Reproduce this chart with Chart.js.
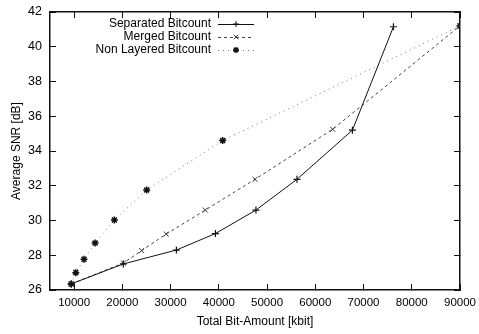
<!DOCTYPE html>
<html>
<head>
<meta charset="utf-8">
<script src="https://cdn.jsdelivr.net/npm/chart.js@4.4.0/dist/chart.umd.min.js"></script>
<style>
  body { margin: 0; background: #fff; }
</style>
</head>
<body>
<canvas id="chart_snr" width="479" height="334"></canvas>
<script>
// values
const sepX = [9400, 20200, 31200, 39300, 47700, 56200, 67700, 76200];
const sepY = [26.35, 27.5, 28.3, 29.25, 30.6, 32.37, 35.2, 41.15];

const mergedX = [9400, 20200, 24000, 29100, 37200, 47500, 63600, 90000];
const mergedY = [26.35, 27.55, 28.27, 29.22, 30.6, 32.37, 35.25, 41.2];

const nonLayX = [9400, 10350, 12050, 14350, 18350, 25050, 40800, 90000];
const nonLayY = [26.35, 27.0, 27.77, 28.7, 30.03, 31.76, 34.6, 41.2];

const xTicks = [10000, 20000, 30000, 40000, 50000, 60000, 70000, 80000, 90000];
const yTicks = [26, 28, 30, 32, 34, 36, 38, 40, 42];

const seriesNames = ["Separated Bitcount", "Merged Bitcount", "Non Layered Bitcount"];

const FONT = "'Liberation Sans', Arial, Helvetica, sans-serif";

function toPoints(xs, ys) {
    return xs.map((x, i) => ({x: x, y: ys[i]}));
}

function marker(ctx, style, x, y, r) {
    ctx.beginPath();
    if (style == "cross" || style == "star") {
        ctx.moveTo(x - r, y); ctx.lineTo(x + r, y);
        ctx.moveTo(x, y - r); ctx.lineTo(x, y + r);
    }
    if (style == "crossRot" || style == "star") {
        ctx.moveTo(x - r * 0.75, y - r * 0.75); ctx.lineTo(x + r * 0.75, y + r * 0.75);
        ctx.moveTo(x - r * 0.75, y + r * 0.75); ctx.lineTo(x + r * 0.75, y - r * 0.75);
    }
    ctx.stroke();
}

// legend: right aligned text, sample line to the right (like gnuplot key)
const keyPlugin = {
    id: "gnuKey",
    afterDatasetsDraw(chart) {
        const ctx = chart.ctx;
        ctx.save();
        ctx.font = "12px " + FONT;
        ctx.fillStyle = "#000";
        ctx.textAlign = "right";
        ctx.textBaseline = "middle";
        chart.data.datasets.forEach((ds, i) => {
            const y = 24 + i * 13;
            ctx.fillText(seriesNames[i], 211, y);
            ctx.strokeStyle = ds.borderColor;
            ctx.lineWidth = 1;
            ctx.setLineDash(ds.borderDash || []);
            ctx.beginPath();
            ctx.moveTo(218, y + 0.5); ctx.lineTo(254, y + 0.5);
            ctx.stroke();
            ctx.setLineDash([]);
            ctx.strokeStyle = ds.pointBorderColor;
            ctx.lineWidth = i == 2 ? 1.4 : 1;
            marker(ctx, ds.pointStyle, 236, y, 3);
        });
        ctx.restore();
    }
};

// frame line + inward ticks (negative tick length), gnuplot look
const frameBorder = {display: true, color: "#111", width: 1.5};
const frameGrid = {display: true, drawOnChartArea: false, drawTicks: true, tickLength: -6, color: "#111", lineWidth: 1};

const chart_snr = new Chart("chart_snr", {
    type: "line",
    data: {
        datasets: [{
            label: seriesNames[0],
            data: toPoints(sepX, sepY),
            borderColor: "#111",
            borderWidth: 1,
            pointStyle: "cross",
            pointRadius: 3.5,
            pointBorderWidth: 1.2,
            pointBorderColor: "#111"
        },
        {
            label: seriesNames[1],
            data: toPoints(mergedX, mergedY),
            borderColor: "#444",
            borderWidth: 1,
            borderDash: [3, 3],
            pointStyle: "crossRot",
            pointRadius: 3.5,
            pointBorderWidth: 1,
            pointBorderColor: "#333"
        },
        {
            label: seriesNames[2],
            data: toPoints(nonLayX, nonLayY),
            borderColor: "#777",
            borderWidth: 1,
            borderDash: [1, 4],
            pointStyle: "star",
            pointRadius: 3.5,
            pointBorderWidth: 1.5,
            pointBorderColor: "#111"
        }]
    },
    options: {
        responsive: false,
        animation: false,
        layout: {padding: {top: 12, right: 19, left: 0, bottom: 0}},
        plugins: {
            legend: {display: false},
            tooltip: {enabled: false}
        },
        scales: {
            x: {
                type: "linear",
                position: "bottom",
                min: 5000,
                max: 90000,
                grid: frameGrid,
                border: frameBorder,
                afterBuildTicks: s => { s.ticks = xTicks.map(v => ({value: v})); },
                afterFit: s => { s.height = 44; s.paddingLeft = 0; s.paddingRight = 0; },
                ticks: {
                    padding: 12,
                    maxRotation: 0,
                    color: "#000",
                    font: {family: FONT, size: 11.5},
                    callback: v => String(v)
                },
                title: {
                    display: true,
                    text: "Total Bit-Amount [kbit]",
                    color: "#000",
                    font: {family: FONT, size: 12},
                    padding: {top: 0, bottom: 5}
                }
            },
            x2: {
                type: "linear",
                position: "top",
                min: 5000,
                max: 90000,
                grid: frameGrid,
                border: frameBorder,
                afterBuildTicks: s => { s.ticks = xTicks.map(v => ({value: v})); },
                afterFit: s => { s.height = 0; s.paddingLeft = 0; s.paddingRight = 0; },
                ticks: {display: false}
            },
            y: {
                position: "left",
                min: 26,
                max: 42,
                grid: frameGrid,
                border: frameBorder,
                afterBuildTicks: s => { s.ticks = yTicks.map(v => ({value: v})); },
                afterFit: s => { s.width = 50; s.paddingTop = 0; s.paddingBottom = 0; },
                ticks: {
                    padding: 14,
                    color: "#000",
                    font: {family: FONT, size: 12.5},
                    callback: v => String(v)
                },
                title: {
                    display: true,
                    text: "Average SNR [dB]",
                    color: "#000",
                    font: {family: FONT, size: 12},
                    padding: {top: 9, bottom: 0}
                }
            },
            y2: {
                position: "right",
                min: 26,
                max: 42,
                grid: frameGrid,
                border: frameBorder,
                afterBuildTicks: s => { s.ticks = yTicks.map(v => ({value: v})); },
                afterFit: s => { s.width = 0; s.paddingTop = 0; s.paddingBottom = 0; },
                ticks: {display: false}
            }
        }
    },
    plugins: [keyPlugin]
});
</script>
</body>
</html>
